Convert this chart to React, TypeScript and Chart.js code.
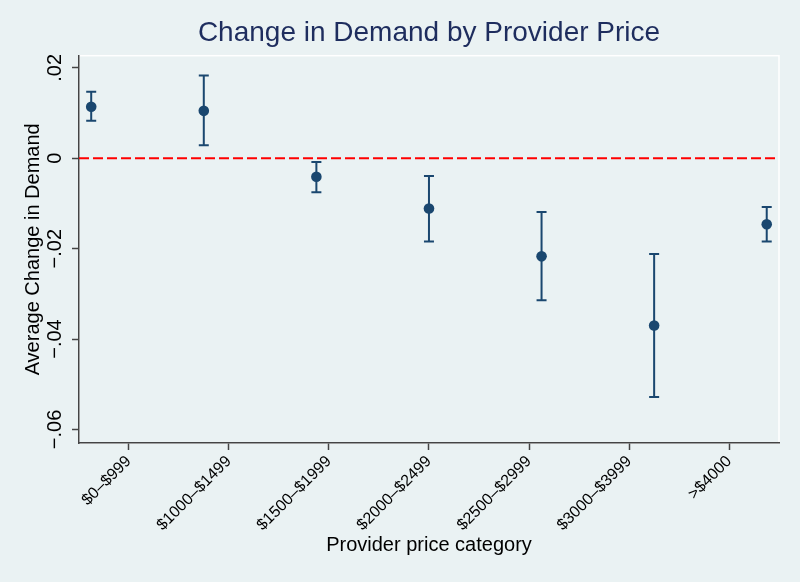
import React, { useEffect, useRef } from "react";
import { Chart, registerables } from "chart.js";

Chart.register(...registerables);

// ---- Data ----
const categories = [
  "$0–$999",
  "$1000–$1499",
  "$1500–$1999",
  "$2000–$2499",
  "$2500–$2999",
  "$3000–$3999",
  ">$4000",
];
const positions = [1, 2, 3, 4, 5, 6, 7];
const means = [0.0114, 0.0105, -0.0041, -0.0111, -0.0217, -0.037, -0.0146];
const upper = [0.0147, 0.0183, -0.0008, -0.0039, -0.0119, -0.0212, -0.0108];
const lower = [0.0083, 0.0029, -0.0075, -0.0184, -0.0314, -0.0528, -0.0184];
const xTickValues = [4 / 3, 20 / 9, 28 / 9, 4, 44 / 9, 52 / 9, 20 / 3];
const yTickValues = [-0.06, -0.04, -0.02, 0, 0.02];
const referenceValue = 0;

// ---- Styles ----
const FONT = "'Liberation Sans', Arial, Helvetica, sans-serif";
const BG = "#EAF2F3";
const NAVY = "#1A476F";
const TITLE_COLOR = "#1E2D5E";
const AXIS = "#444444";

const fmtY = (v: number) => {
  if (Math.abs(v) < 1e-12) return "0";
  const s = Math.abs(v).toFixed(2).replace(/^0/, "");
  return (v < 0 ? "\u2212" : "") + s;
};

const bgPlugin = {
  id: "bgPlugin",
  beforeDraw(chart: any) {
    const { ctx, width, height, chartArea } = chart;
    ctx.save();
    ctx.fillStyle = BG;
    ctx.fillRect(0, 0, width, height);
    ctx.strokeStyle = "#FFFFFF";
    ctx.lineWidth = 1.5;
    ctx.strokeRect(
      chartArea.left,
      chartArea.top,
      chartArea.right - chartArea.left,
      chartArea.bottom - chartArea.top
    );
    ctx.restore();
  },
};

const overlayPlugin = {
  id: "overlayPlugin",
  beforeDatasetsDraw(chart: any) {
    const { ctx, chartArea, scales } = chart;
    const xs = scales.x;
    const ys = scales.y;
    ctx.save();
    // reference line
    const y0 = ys.getPixelForValue(referenceValue);
    ctx.strokeStyle = "#FF0000";
    ctx.lineWidth = 2;
    ctx.setLineDash([10, 4]);
    ctx.beginPath();
    ctx.moveTo(chartArea.left, y0);
    ctx.lineTo(chartArea.right, y0);
    ctx.stroke();
    ctx.setLineDash([]);
    // error bars
    ctx.strokeStyle = NAVY;
    ctx.lineWidth = 2;
    const cap = 5;
    positions.forEach((p, i) => {
      const x = xs.getPixelForValue(p);
      const yu = ys.getPixelForValue(upper[i]);
      const yl = ys.getPixelForValue(lower[i]);
      ctx.beginPath();
      ctx.moveTo(x, yu);
      ctx.lineTo(x, yl);
      ctx.moveTo(x - cap, yu);
      ctx.lineTo(x + cap, yu);
      ctx.moveTo(x - cap, yl);
      ctx.lineTo(x + cap, yl);
      ctx.stroke();
    });
    ctx.restore();
  },
};

export default function App() {
  const ref = useRef<HTMLCanvasElement | null>(null);

  useEffect(() => {
    if (!ref.current) return;
    const chart = new Chart(ref.current, {
      type: "scatter",
      data: {
        datasets: [
          {
            data: positions.map((x, i) => ({ x, y: means[i] })),
            pointRadius: 5.3,
            pointBackgroundColor: NAVY,
            pointBorderColor: NAVY,
            pointBorderWidth: 0,
            showLine: false,
          },
        ],
      },
      options: {
        responsive: false,
        animation: false,
        layout: { padding: { left: 0, right: 21, top: 0, bottom: 0 } },
        plugins: {
          legend: { display: false },
          tooltip: { enabled: false },
          title: {
            display: true,
            text: "Change in Demand by Provider Price",
            fullSize: false,
            color: TITLE_COLOR,
            font: { family: FONT, size: 28, weight: "normal", lineHeight: 1.2 },
            padding: { top: 16.8, bottom: 5.3 },
          },
        },
        scales: {
          x: {
            type: "linear",
            min: 0.8916,
            max: 7.109,
            afterBuildTicks: (s: any) => {
              s.ticks = xTickValues.map((v) => ({ value: v }));
            },
            afterFit: (s: any) => {
              s.height = 139;
            },
            grid: {
              display: true,
              drawOnChartArea: false,
              drawTicks: true,
              tickLength: 7,
              tickColor: AXIS,
              tickWidth: 1.5,
            },
            border: { display: true, color: AXIS, width: 1.5 },
            ticks: {
              autoSkip: false,
              minRotation: 45,
              maxRotation: 45,
              padding: 2,
              color: "#000",
              font: { family: FONT, size: 16 },
              callback: (_v: any, i: number) => categories[i],
            },
            title: {
              display: true,
              text: "Provider price category",
              color: "#000",
              font: { family: FONT, size: 20, lineHeight: 1.2 },
              padding: { top: 0, bottom: 25 },
            },
          },
          y: {
            type: "linear",
            min: -0.063,
            max: 0.0227,
            afterBuildTicks: (s: any) => {
              s.ticks = yTickValues.map((v) => ({ value: v }));
            },
            afterFit: (s: any) => {
              s.width = 79;
            },
            grid: {
              display: true,
              drawOnChartArea: false,
              drawTicks: true,
              tickLength: 7,
              tickColor: AXIS,
              tickWidth: 1.5,
            },
            border: { display: true, color: AXIS, width: 1.5 },
            ticks: {
              autoSkip: false,
              minRotation: 90,
              maxRotation: 90,
              crossAlign: "center",
              padding: -2.75,
              color: "#000",
              font: { family: FONT, size: 20 },
              callback: (v: any) => fmtY(Number(v)),
            },
            title: {
              display: true,
              text: "Average Change in Demand",
              color: "#000",
              font: { family: FONT, size: 20, lineHeight: 1.2 },
              padding: { top: 21, bottom: 0 },
            },
          },
        },
      } as any,
      plugins: [bgPlugin, overlayPlugin],
    });
    return () => chart.destroy();
  }, []);

  return (
    <div
      style={{
        position: "fixed",
        left: 0,
        top: 0,
        width: 800,
        height: 582,
        background: BG,
      }}
    >
      <canvas ref={ref} width={800} height={582} style={{ display: "block" }} />
    </div>
  );
}
